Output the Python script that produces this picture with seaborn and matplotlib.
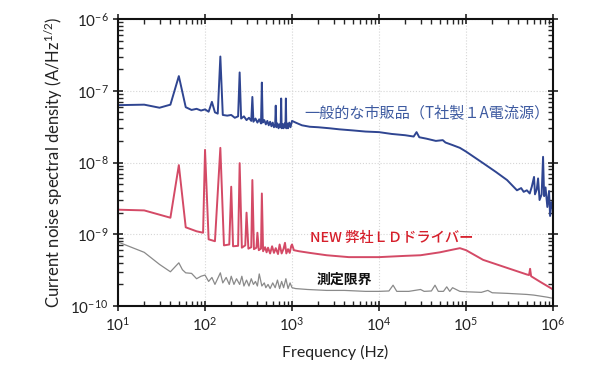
import matplotlib
matplotlib.use("Agg")
import matplotlib.pyplot as plt
import matplotlib.ticker as mticker
import numpy as np
import pandas as pd
import seaborn as sns

# Commercial product (blue)
blue_freq = [10, 20, 30, 40, 50, 60, 70, 80, 90, 100, 110, 120, 130, 140, 150, 160, 180, 200,
             220, 240, 250, 260, 280, 300, 320, 340, 350, 360, 380, 400, 420, 440, 450, 460,
             480, 500, 520, 540, 560, 580, 600, 620, 640, 650, 660, 680, 700, 720, 740, 750,
             760, 780, 800, 820, 840, 850, 860, 880, 900, 930, 960, 1000, 1100, 1300, 1600,
             2000, 2700, 3500, 5000, 7000, 10000, 14000, 20000, 25000, 27000, 29000, 35000,
             45000, 54000, 58000, 70000, 85000, 100000, 157000, 220000, 296000, 385000,
             430000, 460000, 500000, 540000, 570000, 605000, 620000, 650000, 673000, 700000,
             740000, 768000, 790000, 820000, 860000, 900000, 925000, 960000, 1000000]
blue_psd = [6.3e-8, 6.4e-8, 5.8e-8, 6.4e-8, 1.6e-7, 5.9e-8, 5.4e-8, 5.6e-8, 5.3e-8, 5.5e-8,
            5.1e-8, 7.0e-8, 5.0e-8, 4.8e-8, 3.0e-7, 4.6e-8, 4.5e-8, 4.6e-8, 4.2e-8, 4.4e-8,
            1.8e-7, 4.1e-8, 4.4e-8, 3.9e-8, 4.2e-8, 3.8e-8, 8.2e-8, 3.7e-8, 4.1e-8, 3.6e-8,
            4.0e-8, 3.5e-8, 1.3e-7, 3.6e-8, 3.9e-8, 3.4e-8, 3.8e-8, 3.3e-8, 3.7e-8, 3.2e-8,
            3.6e-8, 3.1e-8, 3.4e-8, 6.2e-8, 3.1e-8, 3.5e-8, 3.0e-8, 3.4e-8, 3.1e-8, 7.8e-8,
            3.0e-8, 3.4e-8, 3.0e-8, 3.5e-8, 3.1e-8, 7.8e-8, 3.0e-8, 3.5e-8, 3.0e-8, 3.6e-8,
            3.1e-8, 3.8e-8, 3.6e-8, 3.3e-8, 3.15e-8, 3.1e-8, 3.0e-8, 2.9e-8, 2.8e-8, 2.7e-8,
            2.65e-8, 2.5e-8, 2.4e-8, 2.3e-8, 2.65e-8, 2.25e-8, 2.15e-8, 2.0e-8, 2.05e-8,
            1.9e-8, 1.75e-8, 1.6e-8, 1.42e-8, 9.8e-9, 7.4e-9, 5.7e-9, 4.1e-9, 4.4e-9, 3.9e-9,
            4.1e-9, 3.7e-9, 4.6e-9, 6.3e-9, 3.6e-9, 4.2e-9, 6.0e-9, 3.0e-9, 3.6e-9, 1.2e-8,
            3.4e-9, 4.5e-9, 2.4e-9, 4.0e-9, 1.8e-9, 2.8e-9, 2.2e-9]

# Our LD driver (red)
red_freq = [10, 20, 40, 50, 60, 80, 95, 100, 110, 130, 150, 165, 190, 200, 210, 240, 250, 265,
            290, 300, 315, 340, 350, 365, 390, 400, 415, 440, 450, 465, 490, 510, 530, 560,
            590, 620, 650, 690, 720, 760, 800, 830, 860, 900, 940, 980, 1000, 1050, 1200,
            1600, 2500, 4500, 10000, 20000, 30000, 50000, 70000, 85000, 100000, 157000,
            296000, 500000, 530000, 545000, 560000, 700000, 1000000]
red_psd = [2.2e-9, 2.15e-9, 1.7e-9, 9.2e-9, 1.25e-9, 1.1e-9, 1.05e-9, 1.5e-8, 8.5e-10,
           8.0e-10, 1.6e-8, 7.0e-10, 7.2e-10, 4.6e-9, 6.8e-10, 6.9e-10, 9.8e-9, 6.5e-10,
           7.0e-10, 2.0e-9, 6.3e-10, 6.6e-10, 5.7e-9, 6.2e-10, 6.5e-10, 1.05e-9, 6.0e-10,
           6.3e-10, 3.7e-9, 5.8e-10, 6.6e-10, 5.6e-10, 6.5e-10, 5.4e-10, 6.8e-10, 5.5e-10,
           6.4e-10, 5.3e-10, 7.2e-10, 5.4e-10, 6.3e-10, 7.6e-10, 5.4e-10, 6.2e-10, 5.5e-10,
           6.9e-10, 7.2e-10, 6.0e-10, 5.8e-10, 5.5e-10, 5.1e-10, 4.8e-10, 4.8e-10, 5.0e-10,
           5.1e-10, 5.6e-10, 6.1e-10, 6.4e-10, 6.0e-10, 4.4e-10, 3.4e-10, 2.75e-10, 2.7e-10,
           3.3e-10, 2.6e-10, 2.2e-10, 1.7e-10]

# Measurement floor (gray)
gray_freq = [10, 20, 30, 40, 50, 55, 60, 70, 80, 90, 100, 110, 120, 130, 150, 160, 175, 190,
             200, 215, 230, 250, 265, 280, 300, 320, 340, 360, 380, 400, 420, 450, 480, 500,
             530, 560, 600, 640, 680, 720, 760, 800, 850, 900, 950, 1000, 1100, 1500, 2500,
             4000, 7000, 10000, 13000, 14500, 16000, 22000, 30000, 33000, 40000, 44000, 48000,
             55000, 60000, 65000, 70000, 85000, 100000, 150000, 178000, 200000, 300000,
             500000, 600000, 700000, 850000, 1000000]
gray_psd = [7.8e-10, 5.6e-10, 3.8e-10, 3.0e-10, 4.0e-10, 3.2e-10, 2.9e-10, 2.85e-10, 2.4e-10,
            2.6e-10, 2.7e-10, 2.2e-10, 2.5e-10, 2.0e-10, 2.9e-10, 2.1e-10, 2.5e-10, 2.0e-10,
            2.6e-10, 2.0e-10, 2.4e-10, 2.0e-10, 2.6e-10, 1.9e-10, 2.3e-10, 1.9e-10, 2.4e-10,
            2.0e-10, 2.2e-10, 1.9e-10, 2.8e-10, 1.9e-10, 2.1e-10, 1.8e-10, 2.0e-10, 1.75e-10,
            2.1e-10, 1.8e-10, 2.3e-10, 1.75e-10, 2.2e-10, 1.8e-10, 2.4e-10, 1.75e-10, 2.1e-10,
            1.8e-10, 1.75e-10, 1.7e-10, 1.65e-10, 1.65e-10, 1.6e-10, 1.6e-10, 1.62e-10,
            1.95e-10, 1.6e-10, 1.6e-10, 1.7e-10, 1.6e-10, 1.62e-10, 1.95e-10, 1.6e-10, 1.6e-10,
            1.85e-10, 1.6e-10, 1.8e-10, 1.6e-10, 1.58e-10, 1.55e-10, 1.65e-10, 1.53e-10,
            1.5e-10, 1.45e-10, 1.42e-10, 1.38e-10, 1.33e-10, 1.28e-10]

series_names = ["commercial", "ours", "floor"]
series_colours = ["#2f4591", "#d44a66", "#8a8a8a"]

# Styling
sns.set_style("ticks")
plt.rcParams["font.family"] = ["Lato", "Noto Sans CJK JP", "DejaVu Sans"]
plt.rcParams["mathtext.fontset"] = "custom"
plt.rcParams["mathtext.rm"] = "Lato"
plt.rcParams["mathtext.it"] = "Lato:italic"
plt.rcParams["mathtext.bf"] = "Lato:bold"

df = pd.concat([
    pd.DataFrame({"freq": blue_freq, "psd": blue_psd, "name": series_names[0]}),
    pd.DataFrame({"freq": red_freq, "psd": red_psd, "name": series_names[1]}),
    pd.DataFrame({"freq": gray_freq, "psd": gray_psd, "name": series_names[2]}),
])

fig = plt.figure(figsize=(6.09, 3.80), dpi=100)
ax = fig.add_axes([0.1938, 0.1947, 0.7143, 0.7553])

widths = [1.4, 1.4, 0.9]
for name, colour, lw in zip(series_names, series_colours, widths):
    sns.lineplot(data=df[df["name"] == name], x="freq", y="psd", ax=ax, color=colour,
                 linewidth=lw, estimator=None, sort=False, legend=False)

ax.set_xscale("log")
ax.set_yscale("log")
ax.set_xlim(10, 1e6)
ax.set_ylim(1e-10, 1e-6)

# Grid and ticks
ax.grid(True, which="major", linestyle=":", color="#d6d6d6", linewidth=0.8)
ax.xaxis.set_minor_locator(mticker.LogLocator(base=10, subs=np.arange(2, 10)))
ax.yaxis.set_minor_locator(mticker.LogLocator(base=10, subs=np.arange(2, 10)))
ax.xaxis.set_minor_formatter(mticker.NullFormatter())
ax.yaxis.set_minor_formatter(mticker.NullFormatter())
ax.tick_params(which="major", direction="inout", length=7, width=1.2, top=True, right=True,
               labelsize=11, colors="#222222")
ax.tick_params(which="minor", direction="in", length=3.5, width=1.0, top=True, right=True)
for spine in ax.spines.values():
    spine.set_linewidth(1.5)
    spine.set_color("#111111")

ax.set_xlabel("Frequency (Hz)", fontsize=11.5, color="#222222", labelpad=8)
ax.set_ylabel("Current noise spectral density (A/Hz$^{1/2}$)", fontsize=12,
              color="#222222", labelpad=4)

# Annotations
jp = ["Noto Sans CJK JP", "DejaVu Sans"]
ax.text(1.4e3, 4.9e-8, "一般的な市販品（T社製１A電流源）", color="#3d5aa0", fontsize=10.9,
        family=jp, va="center", ha="left")
ax.text(1.6e3, 8.9e-10, "NEW 弊社ＬＤドライバー", color="#d61f2b", fontsize=10.3,
        family=jp, fontweight="medium", va="center", ha="left")
ax.text(1.94e3, 2.3e-10, "測定限界", color="#111111", fontsize=10, family=jp,
        fontweight="bold", va="center", ha="left")

plt.savefig("out.png", dpi=100)
